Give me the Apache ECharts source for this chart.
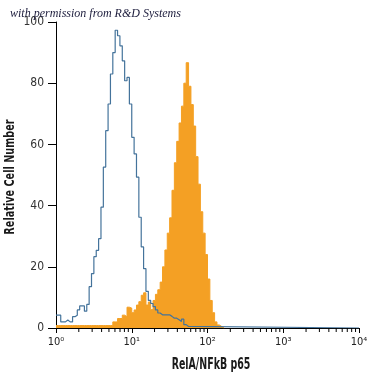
<!DOCTYPE html>
<html>
<head>
<meta charset="utf-8">
<script src="https://cdn.jsdelivr.net/npm/echarts@6/dist/echarts.min.js"></script>
<style>
html,body{margin:0;padding:0;background:#fff;}
#chart{width:375px;height:375px;}
</style>
</head>
<body>
<div id="chart"></div>
<script>
// Histogram channels: 32 bins per decade over 10^0..10^4
const binsPerDecade = 32;
// Isotype control (blue outline), relative cell number per bin starting at 10^0
const isotypeCounts = [4.2,4.2,2.0,2.0,2.6,2.0,2.0,3.7,4.2,5.9,7.2,7.2,5.5,7.7,13.5,17.8,23.3,25.4,29.2,39.5,52.6,64.5,73.2,83,90,97.3,95.5,92.2,87.3,80.8,81.9,73.2,62.3,56.9,49.3,36.2,26.5,19.4,12.0,9.0,8.0,7.0,5.9,4.9,4.3,4.3,4.3,4.3,3.8,3.2,3.2,2.7,2.1,2.9,1.1,0.5,0];
// RelA/NFkB p65 stained (orange filled)
const stainedCounts = [0.8,0.8,0.8,0.8,0.8,0.8,0.8,0.8,0.8,0.8,0.8,0.8,0.8,0.8,0.8,0.8,0.8,0.8,0.8,0.8,0.8,0.8,0.8,0.8,2.0,2.0,3.1,3.1,4.2,3.7,6.8,6.5,5.0,5.9,7.5,8.6,10.7,11.5,7.5,8.5,6.0,9.0,11.0,12.5,15.0,20.0,25.5,31.0,36.0,45.0,54.0,61.0,67.0,72.5,80.0,86.7,79.0,73.0,66.0,56.0,47.0,38.0,31.0,24.0,16.0,9.0,5.0,2.0,1.0,0.5,0];
const xTickValues = [1,10,100,1000,10000];
const xTickLabels = ['10\u2070','10\u00B9','10\u00B2','10\u00B3','10\u2074'];
const minorTickValues = [2,3,4,5,6,7,8,9,20,30,40,50,60,70,80,90,200,300,400,500,600,700,800,900,2000,3000,4000,5000,6000,7000,8000,9000];
const xAxisTitle = 'RelA/NFkB p65';
const yAxisTitle = 'Relative Cell Number';

function edge(i){ return Math.pow(10, i / binsPerDecade); }
function stepData(counts, endX){
  const d = counts.map((v,i)=>[edge(i), v]);
  d.push([endX !== undefined ? endX : edge(counts.length), counts[counts.length-1]]);
  return d;
}

const condensed = "'Liberation Sans Narrow','DejaVu Sans Condensed',sans-serif";
const chart = echarts.init(document.getElementById('chart'), null, {renderer:'canvas'});
chart.setOption({
  animation:false,
  backgroundColor:'#ffffff',
  grid:{left:56,right:16,top:22,bottom:47,containLabel:false,outerBoundsMode:'none'},
  xAxis:{
    type:'log', logBase:10, min:1, max:10000,
    axisLine:{show:true,lineStyle:{color:'#000',width:1}},
    axisTick:{show:true,length:5,lineStyle:{color:'#000'}},
    axisLabel:{fontFamily:condensed,fontSize:11,color:'#222',margin:9,
      formatter:function(v){const i=xTickValues.indexOf(Math.round(v));return i>=0?xTickLabels[i]:'';}},
    splitLine:{show:false},
    minorTick:{show:false}
  },
  yAxis:{
    type:'value', min:0, max:100, interval:20,
    axisLine:{show:true,lineStyle:{color:'#000',width:1}},
    axisTick:{show:true,length:8,lineStyle:{color:'#000'}},
    axisLabel:{fontFamily:condensed,fontSize:12,color:'#333',margin:12},
    splitLine:{show:false}
  },
  series:[
    {
      type:'line', step:'end', symbol:'none', data:stepData(stainedCounts),
      lineStyle:{color:'#f4a024',width:1},
      areaStyle:{color:'#f4a024',opacity:1},
      z:2
    },
    {
      type:'line', step:'end', symbol:'none', data:stepData(isotypeCounts, 10000),
      lineStyle:{color:'#44739b',width:1.2},
      z:3
    },
    {
      type:'custom', clip:false, silent:true, z:4,
      data:minorTickValues.map(v=>[v,0]),
      renderItem:function(params,api){
        const p = api.coord([api.value(0),0]);
        return {type:'line',shape:{x1:p[0],y1:p[1],x2:p[0],y2:p[1]+4},style:{stroke:'#000',lineWidth:1}};
      }
    }
  ],
  graphic:[
    {type:'text', left:10, top:8, z:10,
     style:{text:'with permission from R&D Systems', fill:'#1c1c3c',
       font:"italic 12px 'Liberation Serif','DejaVu Serif',serif"}},
    {type:'text', x:211, y:365, scaleX:0.7, z:10,
     style:{text:xAxisTitle, fill:'#1a1a1a', align:'center', verticalAlign:'middle',
       font:"bold 15px "+condensed}},
    {type:'text', x:10, y:177, rotation:Math.PI/2, scaleX:0.77, z:10,
     style:{text:yAxisTitle, fill:'#1a1a1a', align:'center', verticalAlign:'middle',
       font:"bold 14px "+condensed}}
  ]
});
</script>
</body>
</html>
